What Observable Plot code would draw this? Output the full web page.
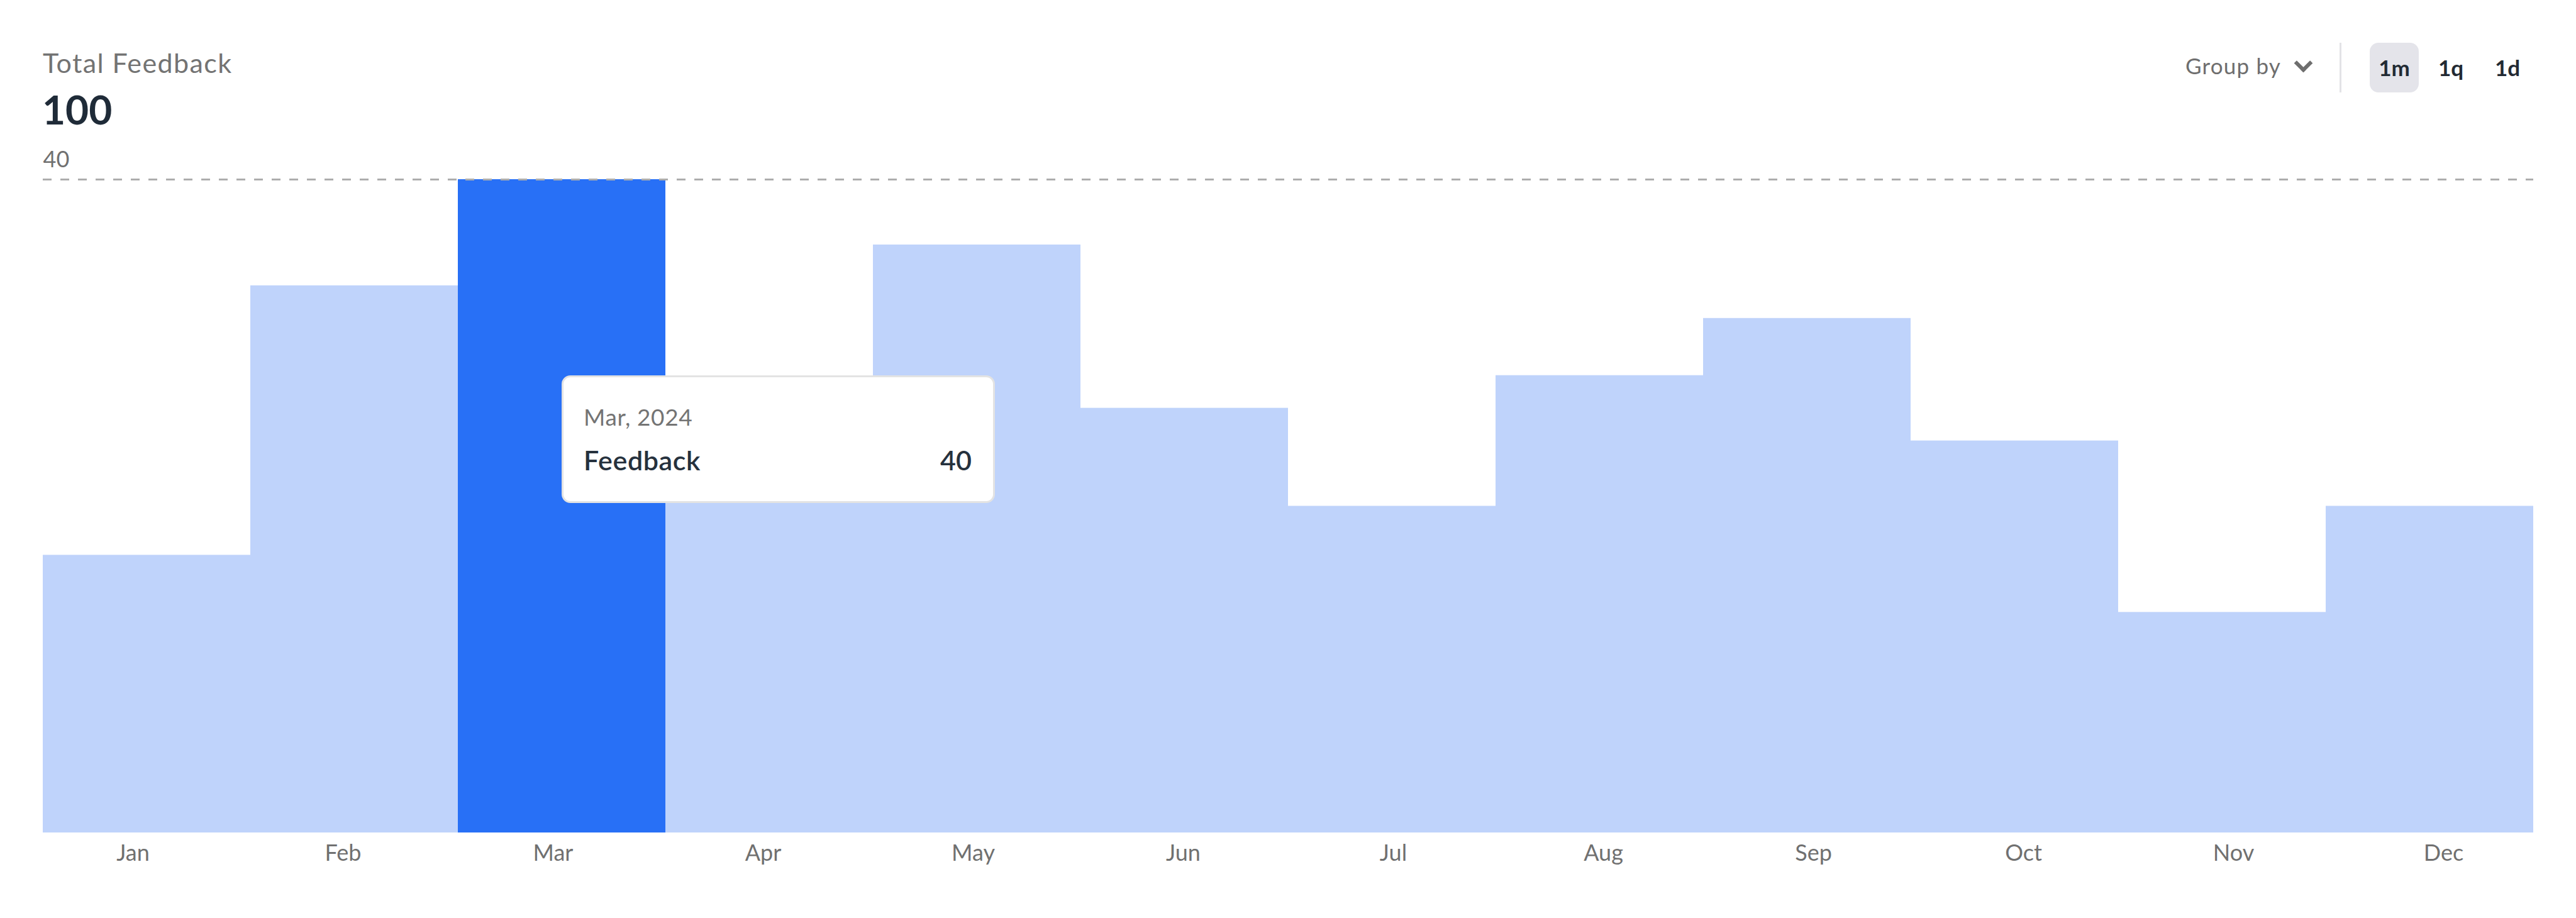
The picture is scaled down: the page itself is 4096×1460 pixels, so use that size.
<!DOCTYPE html>
<html>
<head>
<meta charset="utf-8">
<script src="https://cdn.jsdelivr.net/npm/d3@7"></script>
<script src="https://cdn.jsdelivr.net/npm/@observablehq/plot@0.6"></script>
<style>
  html, body { margin: 0; padding: 0; background: #ffffff; }
  body { font-family: Lato, "Open Sans", sans-serif; }
  #wrap { position: relative; width: 4096px; height: 1460px; overflow: hidden; }
  #header { position: relative; width: 4096px; height: 200px; }
  #chart svg, #axis svg { display: block; }
  .abs { position: absolute; line-height: 1; white-space: nowrap; }
  #title { left: 68px; top: 78px; font-size: 43px; letter-spacing: 1.4px; color: #737373; }
  #total { left: 67px; top: 142px; font-size: 64px; font-weight: 700; color: #1f2b38; }
  #groupby { left: 3475px; top: 87px; font-size: 35px; letter-spacing: 1.2px; color: #6e6e6e; }
  #chev { left: 3652px; top: 90px; width: 15px; height: 15px; border-right: 6px solid #6e6e6e; border-bottom: 6px solid #6e6e6e; transform: rotate(45deg); }
  #sep { left: 3720px; top: 68px; width: 3px; height: 79px; background: #e3e3e6; }
  .btn { top: 68px; height: 79px; width: 78px; border-radius: 14px; font-size: 35px; font-weight: 700; color: #222a33; text-align: center; line-height: 79px; }
  #b1m { left: 3768px; background: #e4e4ea; }
  #b1q { left: 3858px; }
  #b1d { left: 3948px; }
  #tip { position: absolute; top: 597px; width: 683px; height: 197px; background: #fff; border: 3px solid #e3e3e3; border-radius: 14px; }
  #tipdate { left: 32px; top: 44px; font-size: 37px; letter-spacing: 0.6px; color: #747474; }
  #tiplabel { left: 32px; top: 110px; font-size: 43px; font-weight: 600; letter-spacing: 0.6px; color: #26313d; }
  #tipval { right: 34px; top: 110px; font-size: 43px; font-weight: 600; color: #26313d; }
</style>
</head>
<body>
<div id="wrap">
  <div id="header">
    <div class="abs" id="title"></div>
    <div class="abs" id="total"></div>
    <div class="abs" id="groupby"></div>
    <div class="abs" id="chev"></div>
    <div class="abs" id="sep"></div>
    <div class="abs btn" id="b1m"></div>
    <div class="abs btn" id="b1q"></div>
    <div class="abs btn" id="b1d"></div>
  </div>
  <div id="chart"></div>
  <div id="axis"></div>
  <div id="tip">
    <div class="abs" id="tipdate"></div>
    <div class="abs" id="tiplabel"></div>
    <div class="abs" id="tipval"></div>
  </div>
</div>
<script>
// ---- data ----
const months = ["Jan", "Feb", "Mar", "Apr", "May", "Jun", "Jul", "Aug", "Sep", "Oct", "Nov", "Dec"];
const feedback = [17, 33.5, 40, 24, 36, 26, 20, 28, 31.5, 24, 13.5, 20];
const highlightMonth = "Mar";
const year = 2024;
const referenceValue = 40;
const titleText = "Total Feedback";
const totalValue = 100;
const seriesName = "Feedback";
const groupByLabel = "Group by";
const intervals = ["1m", "1q", "1d"];

const rows = months.map((m, i) => ({ month: m, value: feedback[i] }));

document.getElementById("title").textContent = titleText;
document.getElementById("total").textContent = totalValue;
document.getElementById("groupby").textContent = groupByLabel;
["b1m", "b1q", "b1d"].forEach((id, i) => document.getElementById(id).textContent = intervals[i]);

const font = "Lato, 'Open Sans', sans-serif";

// bars
const chart = Plot.plot({
  width: 4096,
  height: 1124,
  marginLeft: 68,
  marginRight: 68,
  marginTop: 85,
  marginBottom: 0,
  style: { fontFamily: font, fontSize: "36px", color: "#707070", background: "#ffffff", overflow: "visible" },
  x: { domain: months, padding: 0, axis: null },
  y: { domain: [0, referenceValue], axis: null },
  marks: [
    Plot.barY(rows, {
      x: "month",
      y: "value",
      fill: d => d.month === highlightMonth ? "#2870f6" : "#bfd3fb",
      inset: 0
    }),
    Plot.ruleY([referenceValue], { stroke: "#adadad", strokeWidth: 3, strokeDasharray: "14,14" }),
    Plot.text([referenceValue], {
      y: d => d,
      text: d => String(d),
      frameAnchor: "left",
      textAnchor: "start",
      lineAnchor: "bottom",
      dy: -20,
      fill: "#707070",
      fontSize: 36
    })
  ]
});
document.getElementById("chart").appendChild(chart);

// month axis (point positions, as in the reference)
const axis = Plot.plot({
  width: 4096,
  height: 136,
  marginLeft: 68,
  marginRight: 68,
  marginTop: 0,
  marginBottom: 135,
  style: { fontFamily: font, fontSize: "36px", color: "#707070", background: "#ffffff", overflow: "visible" },
  x: { type: "point", domain: months, padding: 0.42, label: null, tickSize: 0, tickPadding: 18 },
  marks: [Plot.axisX({ tickSize: 0, tickPadding: 18, label: null })]
});
document.getElementById("axis").appendChild(axis);

// tooltip placed from the scales
const xs = chart.scale("x");
const hi = rows.find(r => r.month === highlightMonth);
const tip = document.getElementById("tip");
tip.style.left = (xs.apply(highlightMonth) + xs.bandwidth / 2) + "px";
document.getElementById("tipdate").textContent = `${hi.month}, ${year}`;
document.getElementById("tiplabel").textContent = seriesName;
document.getElementById("tipval").textContent = hi.value;
</script>
</body>
</html>
